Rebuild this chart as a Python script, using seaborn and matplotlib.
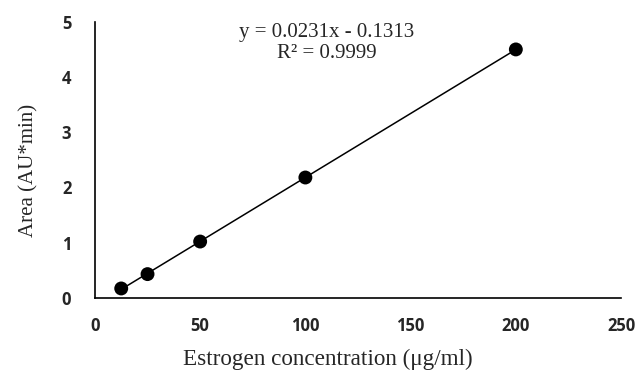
import matplotlib
matplotlib.use("Agg")
import matplotlib.pyplot as plt
import seaborn as sns
import numpy as np
import pandas as pd

concentration = [12.5, 25, 50, 100, 200]
area = [0.17, 0.43, 1.02, 2.18, 4.50]
x_ticks = [0, 50, 100, 150, 200, 250]
y_ticks = [0, 1, 2, 3, 4, 5]
equation_text = "y = 0.0231x - 0.1313"
r2_text = "R² = 0.9999"
x_label = "Estrogen concentration (μg/ml)"
y_label = "Area (AU*min)"

df = pd.DataFrame({"conc": concentration, "area": area})

sns.set_style("white")
fig = plt.figure(figsize=(6.37, 3.70), dpi=100)
ax = fig.add_axes([0.149, 0.195, 0.826, 0.746])

sns.regplot(data=df, x="conc", y="area", ax=ax, ci=None, truncate=True,
            scatter_kws=dict(s=100, color="black", edgecolors="none", alpha=1, zorder=3),
            line_kws=dict(color="black", lw=1.1))

ax.set_xlim(0, 250)
ax.set_ylim(0, 5)
ax.set_xticks(x_ticks)
ax.set_yticks(y_ticks)
for lbl in ax.get_xticklabels() + ax.get_yticklabels():
    lbl.set_fontfamily("Open Sans")
    lbl.set_fontweight("bold")
    lbl.set_fontsize(12)
ax.tick_params(axis="x", length=0, pad=14)
ax.tick_params(axis="y", length=0, pad=17)

ax.set_xlabel(x_label, family="Liberation Serif", fontsize=16.7)
ax.set_ylabel(y_label, family="Liberation Serif", fontsize=15)
ax.xaxis.set_label_coords(0.442, -0.183)
ax.yaxis.set_label_coords(-0.108, 0.46)

for side in ["top", "right"]:
    ax.spines[side].set_visible(False)
for side in ["left", "bottom"]:
    ax.spines[side].set_color("black")
    ax.spines[side].set_linewidth(1.2)

ax.text(0.44, 0.997, equation_text + "\n" + r2_text, transform=ax.transAxes,
        ha="center", va="top", family="Liberation Serif", fontsize=15,
        linespacing=1.2)

fig.savefig("out.png", dpi=100)
